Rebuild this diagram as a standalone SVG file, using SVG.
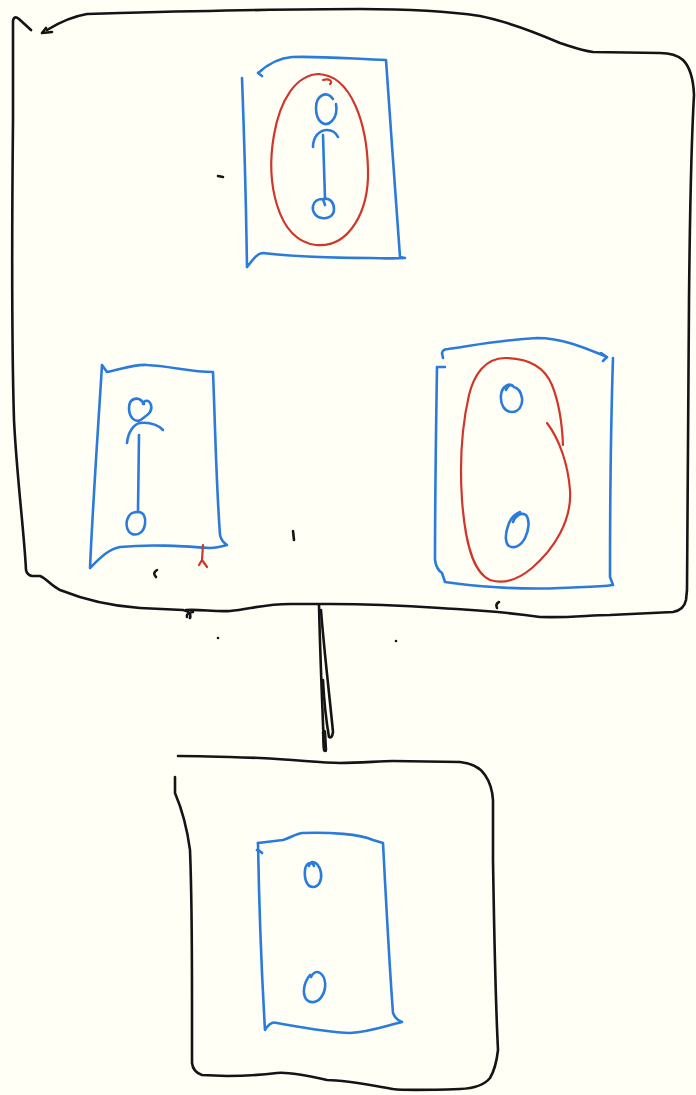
<svg xmlns="http://www.w3.org/2000/svg" width="696" height="1095" viewBox="0 0 696 1095">
  <style>
    .ink { fill: none; stroke-linecap: round; stroke-linejoin: round; }
    .black { stroke: #141414; stroke-width: 2.6; }
    .blue { stroke: #2b7bdc; stroke-width: 2.6; }
    .red { stroke: #d0362c; stroke-width: 2.2; }
    .dot { fill: #141414; }
  </style>
  <rect width="696" height="1095" fill="#fffff5"/>

  <!-- large outer container -->
  <g id="outer-container" class="ink black">
    <path d="M31,30 L19,19 Q14,15 13,21 L13,120 C12,220 11,320 14,420 C17,480 24,530 26,570 Q27,575 32,576 L40,576 C46,578 50,585 60,590 C80,598 110,606 140,608 L183,610 M183,610 Q192,612 190,618 M186,610 C200,609 215,612 230,611 C250,609 265,604 290,604 L330,604 C370,604 410,606 440,608 C470,610 500,611 540,617 C570,618 590,615 610,615 L673,612 Q684,610 686,600 L687,590 C687,500 688,400 689,300 C690,200 692,130 694,95 Q693,70 683,60 Q675,53 660,53 L593,52 C580,50 570,46 560,43 C530,30 500,20 480,16 C440,10 400,9 360,9 C300,9 200,11 120,13 L87,14 C75,16 60,22 47,30"/>
    <path d="M52,32 L42,33 L46,28"/>
  </g>

  <!-- top-centre panel -->
  <g id="panel-top" class="ink">
    <path class="blue" d="M262,70 L258,73 L262,76 M258,73 C268,64 278,58 292,57 C320,56 355,59 386,60 C390,120 396,200 400,257 L405,258 C390,259 380,258 370,258 C330,258 290,256 263,253 C258,253 254,258 247,267 C246,200 244,130 242,78"/>
    <path class="red" d="M323,80 C330,78 333,82 330,84 M320,74 C296,74 280,100 274,135 C266,180 276,240 316,245 C350,248 369,210 368,170 C367,125 352,75 318,74"/>
    <path class="blue" d="M333,99 C327,90 316,95 316,108 C316,122 325,128 332,121 C336,117 337,110 336,104"/>
    <path class="blue" d="M313,147 C313,136 320,130 327,130 C332,130 336,133 338,137"/>
    <path class="blue" d="M323,135 L325,199"/>
    <path class="blue" d="M323,199 C330,197 334,203 334,209 C334,216 328,219 322,218 C315,217 312,211 313,206 C314,201 318,199 323,199 L325,205"/>
  </g>

  <!-- lower-left panel -->
  <g id="panel-left" class="ink">
    <path class="blue" d="M102,365 L107,372 C120,370 133,364 147,365 C170,366 190,372 213,372 C215,420 216,480 220,535 C221,540 224,543 227,545 C220,547 216,548 210,548 C180,546 150,544 120,547 C108,549 98,560 90,568 C93,500 98,430 102,365"/>
    <path class="red" d="M203,545 L202,560 L199,565 M202,560 L207,567"/>
    <path class="blue" d="M144,404 C139,395 129,398 129,408 C129,418 136,424 142,419 C147,415 153,412 151,405 C149,399 144,400 143,404"/>
    <path class="blue" d="M127,443 C128,432 134,424 140,423 C150,422 158,425 163,430"/>
    <path class="blue" d="M139,435 L138,512"/>
    <path class="blue" d="M138,512 C144,512 146,518 145,524 C144,532 138,536 132,534 C126,531 125,522 129,516 C131,512 135,512 138,512"/>
  </g>

  <!-- lower-right panel -->
  <g id="panel-right" class="ink">
    <path class="blue" d="M443,358 L442,353 Q443,349 448,349 C470,346 500,340 537,338 C565,338 590,350 607,357 M601,353 L607,357 L603,361"/>
    <path class="blue" d="M445,367 L437,367 C436,430 435,500 435,560 C436,567 439,571 442,573 L445,582 C470,586 520,590 560,588 C580,587 600,587 613,585 L610,577 C610,500 611,420 613,358"/>
    <path class="red" d="M563,445 C562,420 558,400 552,385 C545,368 530,358 505,358 C485,358 474,375 469,395 C461,430 460,470 462,500 C465,540 472,572 490,580 C505,585 520,578 532,568 C555,548 572,520 570,490 C568,465 560,440 547,423"/>
    <path class="blue" d="M506,390 C508,385 511,384 514,387 C510,382 502,386 501,395 C500,405 505,412 512,412 C519,412 523,405 522,398 C521,392 518,388 514,387"/>
    <path class="blue" d="M513,522 C516,515 521,512 526,515 C530,520 529,530 525,538 C521,546 514,549 509,546 C505,543 505,534 508,526 C510,519 515,514 520,512"/>
  </g>

  <!-- lower container -->
  <g id="lower-container" class="ink black">
    <path d="M178,756 C200,756 230,757 260,758 C300,760 320,763 340,763 C360,763 380,761 393,761 L460,762 Q478,764 485,775 Q492,785 493,800 L493,860 C494,920 495,990 498,1050 Q496,1068 490,1078 Q482,1088 460,1089 C430,1090 400,1090 393,1089 C370,1085 345,1080 327,1080 C300,1074 285,1072 277,1073 C260,1075 240,1076 227,1076 L202,1075 Q193,1072 192,1063 L192,1000 C192,950 192,900 190,850 C186,820 178,800 175,793 L175,777"/>
    <path d="M258,843 L258,843"/>
  </g>

  <!-- panel inside lower container -->
  <g id="panel-lower" class="ink">
    <path class="blue" d="M262,853 Q258,849 257,850 M258,843 L283,840 C290,838 295,834 302,833 C330,832 360,834 373,840 L383,843 C386,900 389,960 393,1013 C395,1018 399,1021 402,1022 C385,1026 370,1032 350,1033 C325,1032 300,1027 277,1023 C272,1021 268,1025 265,1030 C262,980 259,900 258,843"/>
    <path class="blue" d="M309,866 C310,862 313,862 314,866 C312,861 306,862 305,870 C304,879 307,887 313,887 C319,887 322,880 321,873 C320,866 316,862 312,862"/>
    <path class="blue" d="M311,977 C313,972 317,971 320,973 C326,977 327,988 322,996 C318,1003 310,1004 306,999 C302,993 304,982 310,975"/>
  </g>

  <!-- connector joining the two containers -->
  <g id="connectors" class="ink black">
    <path d="M319,605 C320,650 322,700 324,748"/>
    <path d="M321,610 C324,650 330,700 333,732 Q332,739 329,737 C326,720 324,700 323,680"/>
    <path d="M324,732 L325,750" stroke-width="4.5"/>
  </g>

  <!-- stray pen marks -->
  <g id="marks" class="ink black" stroke-width="2">
    <path d="M218,176 L223,177"/>
    <path d="M293,531 L294,540"/>
    <path d="M157,570 Q152,573 156,577"/>
    <path d="M499,602 Q495,604 497,608"/>
    <path d="M193,612 Q186,613 187,617"/>
    <circle class="dot" cx="218" cy="638" r="1.3" stroke="none"/>
    <circle class="dot" cx="396" cy="641" r="1.3" stroke="none"/>
  </g>
</svg>
